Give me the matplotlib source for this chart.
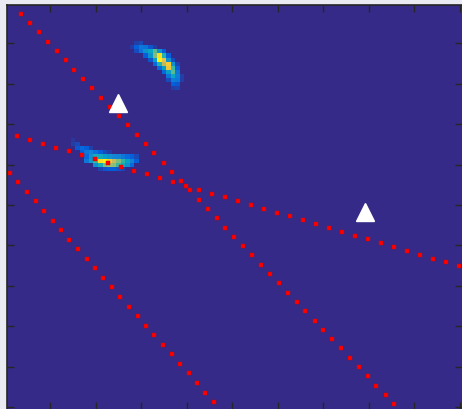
import numpy as np
import matplotlib
matplotlib.use("Agg")
import matplotlib.pyplot as plt
from matplotlib.colors import LinearSegmentedColormap

# approximation de parula (MATLAB)
parula = LinearSegmentedColormap.from_list("parula", [
    "#352A87", "#0363E1", "#1485D4", "#06A7C6", "#38B99E",
    "#92BF73", "#D9BA56", "#FCCE2E", "#F9FB0E"])

# taches de la carte : (ligne, colonne de depart, valeurs)
blob_upper = [
    (10, 29, [0.05, 0.07]),
    (11, 28, [0.04, 0.12, 0.20, 0.18, 0.10, 0.04]),
    (12, 29, [0.08, 0.18, 0.30, 0.38, 0.55, 0.30, 0.12]),
    (13, 31, [0.12, 0.30, 0.60, 0.92, 0.45, 0.12]),
    (14, 32, [0.10, 0.35, 0.97, 0.80, 0.30, 0.08]),
    (15, 33, [0.15, 0.45, 0.70, 0.85, 0.30, 0.06]),
    (16, 34, [0.15, 0.35, 0.82, 0.50, 0.12]),
    (17, 35, [0.15, 0.35, 0.55, 0.20]),
    (18, 36, [0.20, 0.38, 0.22, 0.05]),
    (19, 36, [0.08, 0.22, 0.20, 0.05]),
    (20, 37, [0.12, 0.10]),
    (21, 37, [0.05, 0.06]),
]
blob_lower = [
    (34, 15, [0.03]),
    (35, 15, [0.05, 0.07]),
    (36, 16, [0.10, 0.15, 0.12, 0.05]),
    (37, 17, [0.12, 0.20, 0.24, 0.18, 0.12, 0.07, 0.04]),
    (38, 18, [0.15, 0.30, 0.42, 0.40, 0.34, 0.30, 0.26, 0.24, 0.20, 0.16, 0.12, 0.07]),
    (39, 18, [0.20, 0.35, 0.50, 0.92, 0.97, 0.85, 0.72, 0.60, 0.48, 0.36, 0.24, 0.12]),
    (40, 20, [0.30, 0.42, 0.60, 0.65, 0.62, 0.50, 0.40, 0.30, 0.15]),
    (41, 21, [0.06, 0.10, 0.12, 0.12, 0.10, 0.06]),
]

# lignes en pointilles rouges
line_a_x = [3.6, 5.6, 7.5, 9.5, 11.4, 13.4, 15.3, 17.3, 19.2, 21.2, 23.2, 25.1, 27.1, 29.0,
            31.0, 32.9, 34.9, 36.8, 38.8, 40.7, 42.7, 44.6, 46.6, 48.5, 50.5, 52.4, 54.4,
            56.3, 58.3, 60.2, 62.2, 64.2, 66.1, 68.1, 70.0, 72.0, 73.9, 75.9, 77.8, 79.8,
            81.7, 83.7, 85.6]
line_a_y = [2.7, 5.0, 7.3, 9.6, 11.9, 14.2, 16.5, 18.8, 21.1, 23.4, 25.7, 28.0, 30.3, 32.6,
            34.9, 37.2, 39.5, 41.8, 44.1, 46.4, 48.7, 51.0, 53.3, 55.6, 57.9, 60.2, 62.5,
            64.8, 67.1, 69.4, 71.7, 74.0, 76.3, 78.6, 80.9, 83.2, 85.5, 87.8, 90.1, 92.4,
            94.7, 97.0, 99.3]
line_b_x = [2.7, 5.6, 8.4, 11.3, 14.1, 17.0, 19.8, 22.7, 25.6, 28.4, 31.3, 34.1, 37.0, 39.8,
            42.7, 45.6, 48.4, 51.3, 54.1, 57.0, 59.8, 62.7, 65.6, 68.4, 71.3, 74.1, 77.0,
            79.8, 82.7, 85.6, 88.4, 91.3, 94.1, 97.0, 99.8]
line_b_y = [32.9, 33.9, 34.8, 35.8, 36.7, 37.7, 38.6, 39.6, 40.5, 41.5, 42.4, 43.4, 44.3,
            45.3, 46.2, 47.2, 48.1, 49.0, 50.0, 50.9, 51.9, 52.8, 53.8, 54.7, 55.7, 56.6,
            57.6, 58.5, 59.5, 60.4, 61.4, 62.3, 63.3, 64.2, 65.2]
line_c_x = [1.2, 3.0, 4.9, 6.8, 8.6, 10.5, 12.4, 14.2, 16.1, 18.0, 19.8, 21.7, 23.6, 25.4,
            27.3, 29.2, 31.0, 32.9, 34.8, 36.7, 38.5, 40.4, 42.3, 44.1, 46.0]
line_c_y = [42.0, 44.4, 46.7, 49.1, 51.5, 53.9, 56.2, 58.6, 61.0, 63.3, 65.7, 68.1, 70.4,
            72.8, 75.2, 77.5, 79.9, 82.3, 84.6, 87.0, 89.4, 91.7, 94.1, 96.5, 98.8]

# triangles blancs
tri_x = [25.0, 79.2]
tri_y = [24.7, 51.7]

# construire la matrice 100x100
grid = np.zeros((100, 100))
for blob in (blob_upper, blob_lower):
    for row, col, vals in blob:
        grid[row - 1, col - 1:col - 1 + len(vals)] = vals

fig = plt.figure(figsize=(4.62, 4.10), dpi=100, facecolor="#eaeaf2")
ax = fig.add_axes([7 / 462, 0, 455 / 462, 404 / 410])
ax.imshow(grid, cmap=parula, vmin=0, vmax=1, extent=(0.5, 100.5, 100.5, 0.5),
          aspect="auto", interpolation="nearest")

for xs, ys in ((line_a_x, line_a_y), (line_b_x, line_b_y), (line_c_x, line_c_y)):
    ax.plot(xs, ys, linestyle="none", marker="s", markersize=2.5, color="red",
            markeredgewidth=0.3, markeredgecolor="#d00000")
ax.plot(tri_x, tri_y, linestyle="none", marker="^", markersize=12.5,
        color="white", markeredgecolor="white")

ax.set_xlim(0.5, 100.5)
ax.set_ylim(100.5, 0.5)
ax.set_xticks(range(10, 101, 10))
ax.set_yticks(range(10, 101, 10))
ax.set_xticklabels([])
ax.set_yticklabels([])
ax.tick_params(direction="in", length=5, width=1, color="#262626",
               top=True, right=True, bottom=True, left=True)
for name, s in ax.spines.items():
    s.set_color("#262626")
    s.set_linewidth(1.2)
    if name in ("right", "bottom"):
        s.set_visible(False)

fig.savefig("out.png", dpi=100, facecolor=fig.get_facecolor())
